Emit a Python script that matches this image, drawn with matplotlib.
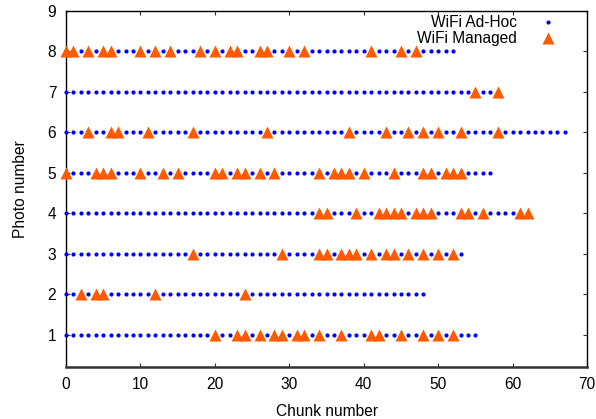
import matplotlib
matplotlib.use("Agg")
import matplotlib.pyplot as plt

plt.rcParams['font.family'] = ['Liberation Sans', 'DejaVu Sans']

photos = [1, 2, 3, 4, 5, 6, 7, 8]
last_chunk = [55, 48, 53, 62, 57, 67, 58, 52]
managed = {
    1: [20, 23, 24, 26, 28, 29, 31, 32, 34, 37, 41, 42, 45, 48, 50, 52],
    2: [2, 4, 5, 12, 24],
    3: [17, 29, 34, 35, 37, 38, 39, 41, 43, 44, 46, 48, 50, 52],
    4: [34, 35, 39, 42, 43, 44, 45, 47, 48, 49, 53, 54, 56, 61, 62],
    5: [0, 4, 5, 6, 10, 13, 15, 20, 21, 23, 24, 26, 28, 34, 36, 37, 38, 40, 44, 48, 49, 51, 52, 53],
    6: [3, 6, 7, 11, 17, 27, 38, 43, 46, 48, 50, 53, 58],
    7: [55, 58],
    8: [0, 1, 3, 5, 6, 10, 12, 14, 18, 20, 22, 23, 26, 27, 30, 32, 41, 45, 47],
}
x_ticks = [0, 10, 20, 30, 40, 50, 60, 70]
y_ticks = [1, 2, 3, 4, 5, 6, 7, 8, 9]

adhoc_x, adhoc_y, man_x, man_y = [], [], [], []
for p, n in zip(photos, last_chunk):
    m = set(managed[p])
    for c in range(n + 1):
        if c in m:
            man_x.append(c); man_y.append(p)
        else:
            adhoc_x.append(c); adhoc_y.append(p)

fig = plt.figure(figsize=(5.96, 4.19), dpi=100)
ax = fig.add_axes([0.1107, 0.124, 0.8743, 0.8497])

blue = '#0000ff'
orange = '#ff5a00'
ax.plot(adhoc_x, adhoc_y, linestyle='none', marker='o', ms=3.0, color=blue,
        mec='none', clip_on=False, zorder=3)
ax.plot(man_x, man_y, linestyle='none', marker='^', ms=8.5, color=orange,
        mec='none', clip_on=False, zorder=4)

ax.set_xlim(0, 70)
ax.set_ylim(0.2, 9)
ax.set_xticks(x_ticks)
ax.set_yticks(y_ticks)
ax.tick_params(direction='in', length=3, width=0.8, labelsize=11.2,
               top=True, right=True, pad=7, color='#333333')
for s in ax.spines.values():
    s.set_linewidth(1.0)
    s.set_color('black')
ax.spines['bottom'].set_linewidth(1.8)
ax.spines['bottom'].set_color('#333333')

ax.set_xlabel('Chunk number', fontsize=11.2, labelpad=9)
ax.set_ylabel('Photo number', fontsize=11.2, labelpad=14)

# key (legend), text right-aligned with sample marker to its right
ax.text(0.8656, 0.968, 'WiFi Ad-Hoc', transform=ax.transAxes, ha='right',
        va='center', fontsize=11.2)
ax.text(0.8656, 0.924, 'WiFi Managed', transform=ax.transAxes, ha='right',
        va='center', fontsize=11.2)
ax.plot([0.925], [0.968], transform=ax.transAxes, linestyle='none', marker='o',
        ms=3.0, color=blue, mec='none', clip_on=False)
ax.plot([0.925], [0.924], transform=ax.transAxes, linestyle='none', marker='^',
        ms=8.5, color=orange, mec='none', clip_on=False)

fig.savefig('out.png', dpi=100)
